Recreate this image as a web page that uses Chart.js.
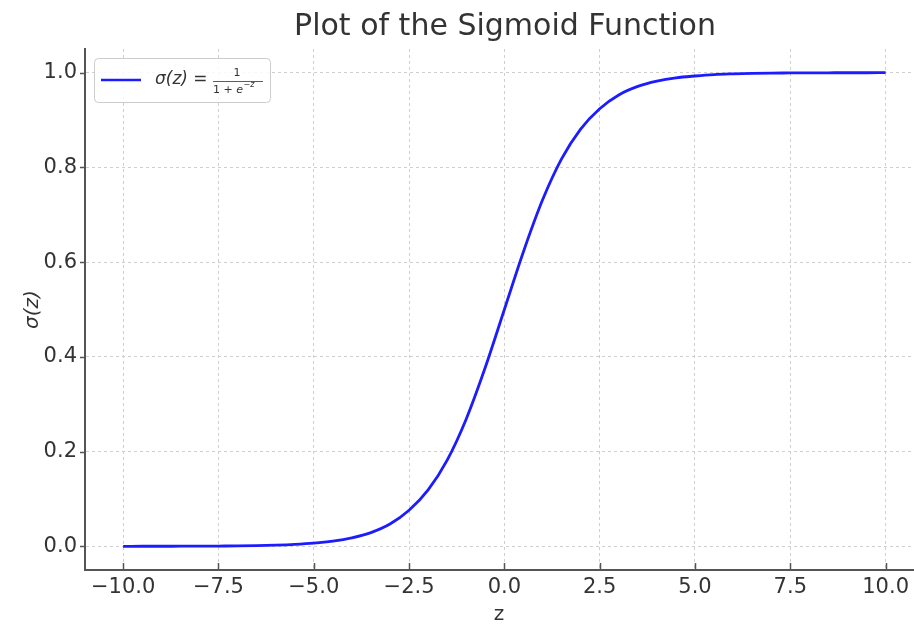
<!DOCTYPE html>
<html>
<head>
<meta charset="utf-8">
<script src="https://cdn.jsdelivr.net/npm/chart.js@4/dist/chart.umd.min.js"></script>
<style>
  html, body { margin: 0; padding: 0; background: #ffffff; overflow: hidden; }
  #wrap { width: 914px; height: 625px; position: relative; }
</style>
</head>
<body>
<div id="wrap"><canvas id="c" width="914" height="625"></canvas></div>
<script>
// ---- data ----
const zValues = [-10, -9.5, -9, -8.5, -8, -7.5, -7, -6.5, -6, -5.5, -5, -4.5, -4, -3.5, -3, -2.5, -2, -1.5, -1, -0.5,
                 0, 0.5, 1, 1.5, 2, 2.5, 3, 3.5, 4, 4.5, 5, 5.5, 6, 6.5, 7, 7.5, 8, 8.5, 9, 9.5, 10];
const sigmaValues = [0.0000, 0.0001, 0.0001, 0.0002, 0.0003, 0.0006, 0.0009, 0.0015, 0.0025, 0.0041, 0.0067, 0.011, 0.018, 0.029, 0.047, 0.076, 0.119, 0.182, 0.269, 0.378,
                     0.500, 0.622, 0.731, 0.818, 0.881, 0.924, 0.953, 0.971, 0.982, 0.989, 0.993, 0.996, 0.9975, 0.9985, 0.9991, 0.9994, 0.9997, 0.9998, 0.9999, 0.9999, 1.0000];
const xTickValues = [-10, -7.5, -5, -2.5, 0, 2.5, 5, 7.5, 10];
const yTickValues = [0, 0.2, 0.4, 0.6, 0.8, 1.0];
const titleText = 'Plot of the Sigmoid Function';
const xTitle = 'z';
const yTitle = 'σ(z)';

const points = zValues.map((z, i) => ({ x: z, y: sigmaValues[i] }));
const FONT = "'DejaVu Sans', 'Liberation Sans', sans-serif";
const TEXT = '#333333';
const SPINE = '#555555';
const LINE = '#1c1cff';

const tickMarks = {
  id: 'tickMarks',
  afterDraw(chart) {
    const ctx = chart.ctx, xs = chart.scales.x, ys = chart.scales.y, a = chart.chartArea;
    ctx.save();
    ctx.strokeStyle = SPINE;
    ctx.lineWidth = 1.5;
    ctx.beginPath();
    xTickValues.forEach(v => {
      const px = Math.round(xs.getPixelForValue(v)) + 0.5;
      ctx.moveTo(px, a.bottom); ctx.lineTo(px, a.bottom - 7);
    });
    yTickValues.forEach(v => {
      const py = Math.round(ys.getPixelForValue(v)) + 0.5;
      ctx.moveTo(a.left, py); ctx.lineTo(a.left - 5, py);
    });
    ctx.stroke();
    ctx.restore();
  }
};

// title centred over the full (cropped) axes box, as in the reference
const axesTitle = {
  id: 'axesTitle',
  afterDraw(chart) {
    const ctx = chart.ctx;
    ctx.save();
    ctx.fillStyle = TEXT;
    ctx.font = "30px " + FONT;
    ctx.textAlign = 'center';
    ctx.textBaseline = 'middle';
    ctx.fillText(titleText, 505, 27);
    ctx.restore();
  }
};

const mathLegend = {
  id: 'mathLegend',
  afterDraw(chart) {
    const ctx = chart.ctx;
    ctx.save();
    const bx = 94.5, by = 58.5, bw = 176, bh = 44, r = 4;
    ctx.beginPath();
    ctx.moveTo(bx + r, by);
    ctx.lineTo(bx + bw - r, by); ctx.quadraticCurveTo(bx + bw, by, bx + bw, by + r);
    ctx.lineTo(bx + bw, by + bh - r); ctx.quadraticCurveTo(bx + bw, by + bh, bx + bw - r, by + bh);
    ctx.lineTo(bx + r, by + bh); ctx.quadraticCurveTo(bx, by + bh, bx, by + bh - r);
    ctx.lineTo(bx, by + r); ctx.quadraticCurveTo(bx, by, bx + r, by);
    ctx.closePath();
    ctx.fillStyle = 'rgba(255,255,255,0.85)';
    ctx.fill();
    ctx.strokeStyle = '#cccccc';
    ctx.lineWidth = 1;
    ctx.stroke();
    ctx.beginPath();
    ctx.moveTo(101, 80); ctx.lineTo(141, 80);
    ctx.strokeStyle = LINE;
    ctx.lineWidth = 2.5;
    ctx.stroke();
    ctx.fillStyle = TEXT;
    ctx.textBaseline = 'middle';
    ctx.textAlign = 'left';
    ctx.font = "italic 17px " + FONT;
    ctx.fillText('σ(z) =', 155, 80);
    ctx.font = "11px " + FONT;
    ctx.textAlign = 'center';
    ctx.fillText('1', 237, 73);
    ctx.textAlign = 'left';
    ctx.fillText('1 + ', 213, 90);
    ctx.font = "italic 11px " + FONT;
    const w = ctx.measureText('1 + ').width;
    ctx.font = "11px " + FONT;
    const w1 = ctx.measureText('1 + ').width;
    ctx.font = "italic 11px " + FONT;
    ctx.fillText('e', 213 + w1, 90);
    const we = ctx.measureText('e').width;
    ctx.font = "italic 8px " + FONT;
    ctx.fillText('−z', 213 + w1 + we + 0.5, 85);
    ctx.beginPath();
    ctx.moveTo(213, 81.5); ctx.lineTo(263, 81.5);
    ctx.strokeStyle = TEXT;
    ctx.lineWidth = 0.8;
    ctx.stroke();
    ctx.restore();
  }
};

const fmt = v => {
  const s = Math.abs(v).toFixed(1);
  return v < 0 ? '\u2212' + s : s;
};

new Chart(document.getElementById('c'), {
  type: 'line',
  data: {
    datasets: [{
      label: 'σ(z) = 1/(1+e^−z)',
      data: points,
      borderColor: LINE,
      borderWidth: 2.8,
      pointRadius: 0,
      fill: false,
      cubicInterpolationMode: 'monotone'
    }]
  },
  options: {
    responsive: false,
    animation: false,
    layout: { padding: { top: 49, left: 0, right: 0, bottom: 0 } },
    plugins: {
      legend: { display: false },
      tooltip: { enabled: false },
      title: { display: false, text: titleText }
    },
    scales: {
      x: {
        type: 'linear',
        min: -11,
        max: 10.72,
        afterBuildTicks: s => { s.ticks = xTickValues.map(v => ({ value: v })); },
        afterFit: s => { s.height = 55; },
        grid: { color: '#cfcfcf', lineWidth: 1, drawTicks: false },
        border: { display: true, color: SPINE, width: 2, dash: [3, 3] },
        ticks: {
          color: TEXT, padding: 5, maxRotation: 0, autoSkip: false,
          font: { family: FONT, size: 21 },
          callback: v => fmt(v)
        },
        title: {
          display: true, text: xTitle, color: TEXT,
          font: { family: FONT, size: 20 },
          padding: { top: 0, bottom: -2 }
        }
      },
      y: {
        type: 'linear',
        min: -0.05,
        max: 1.05,
        afterBuildTicks: s => { s.ticks = yTickValues.map(v => ({ value: v })); },
        afterFit: s => { s.width = 85; },
        grid: { color: '#cfcfcf', lineWidth: 1, drawTicks: false },
        border: { display: true, color: SPINE, width: 2, dash: [3, 3] },
        ticks: {
          color: TEXT, padding: 8, autoSkip: false,
          font: { family: FONT, size: 21 },
          callback: v => v.toFixed(1)
        },
        title: {
          display: true, text: yTitle, color: TEXT,
          font: { family: FONT, size: 20, style: 'italic' },
          padding: { top: 21, bottom: 0 }
        }
      }
    }
  },
  plugins: [tickMarks, axesTitle, mathLegend]
});
</script>
</body>
</html>
